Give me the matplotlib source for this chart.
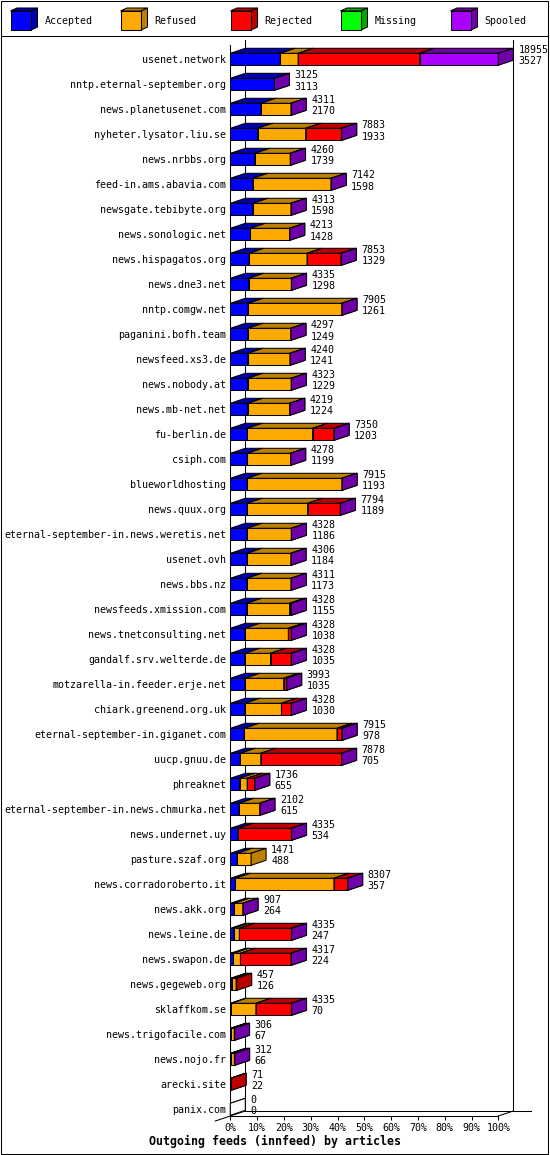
import matplotlib
matplotlib.use("Agg")
import matplotlib.pyplot as plt
from matplotlib.patches import Polygon, Rectangle

# ---- data ----
hosts = [
    "usenet.network", "nntp.eternal-september.org", "news.planetusenet.com",
    "nyheter.lysator.liu.se", "news.nrbbs.org", "feed-in.ams.abavia.com",
    "newsgate.tebibyte.org", "news.sonologic.net", "news.hispagatos.org",
    "news.dne3.net", "nntp.comgw.net", "paganini.bofh.team", "newsfeed.xs3.de",
    "news.nobody.at", "news.mb-net.net", "fu-berlin.de", "csiph.com",
    "blueworldhosting", "news.quux.org", "eternal-september-in.news.weretis.net",
    "usenet.ovh", "news.bbs.nz", "newsfeeds.xmission.com",
    "news.tnetconsulting.net", "gandalf.srv.welterde.de",
    "motzarella-in.feeder.erje.net", "chiark.greenend.org.uk",
    "eternal-september-in.giganet.com", "uucp.gnuu.de", "phreaknet",
    "eternal-september-in.news.chmurka.net", "news.undernet.uy",
    "pasture.szaf.org", "news.corradoroberto.it", "news.akk.org",
    "news.leine.de", "news.swapon.de", "news.gegeweb.org", "sklaffkom.se",
    "news.trigofacile.com", "news.nojo.fr", "arecki.site", "panix.com",
]
offered = [18955, 3125, 4311, 7883, 4260, 7142, 4313, 4213, 7853, 4335, 7905,
           4297, 4240, 4323, 4219, 7350, 4278, 7915, 7794, 4328, 4306, 4311,
           4328, 4328, 4328, 3993, 4328, 7915, 7878, 1736, 2102, 4335, 1471,
           8307, 907, 4335, 4317, 457, 4335, 306, 312, 71, 0]
accepted = [3527, 3113, 2170, 1933, 1739, 1598, 1598, 1428, 1329, 1298, 1261,
            1249, 1241, 1229, 1224, 1203, 1199, 1193, 1189, 1186, 1184, 1173,
            1155, 1038, 1035, 1035, 1030, 978, 705, 655, 615, 534, 488, 357,
            264, 247, 224, 126, 70, 67, 66, 22, 0]
refused = [1270, 0, 2130, 3400, 2500, 5530, 2700, 2770, 4100, 3020, 6630,
           3035, 2985, 3080, 2980, 4620, 3065, 6708, 4280, 3128, 3108, 3124,
           3040, 3070, 1810, 2740, 2590, 6570, 1450, 540, 1475, 0, 983, 6975,
           630, 395, 495, 280, 1740, 220, 226, 0, 0]
rejected = [8600, 0, 0, 2540, 0, 0, 0, 0, 2410, 0, 0, 0, 0, 0, 0, 1513, 0, 0,
            2310, 0, 0, 0, 118, 205, 1470, 205, 695, 352, 5710, 527, 0, 3788,
            0, 962, 0, 3680, 3585, 51, 2510, 0, 0, 49, 0]
missing = [0] * len(hosts)
spooled = [5558, 12, 11, 10, 21, 14, 15, 15, 14, 17, 14, 13, 14, 14, 15, 14,
           14, 14, 15, 14, 14, 14, 15, 15, 13, 13, 13, 15, 13, 14, 12, 13, 0,
           13, 13, 13, 13, 0, 15, 19, 20, 0, 0]

series_names = ["Accepted", "Refused", "Rejected", "Missing", "Spooled"]
series = [accepted, refused, rejected, missing, spooled]
ticks_pct = [0, 10, 20, 30, 40, 50, 60, 70, 80, 90, 100]

FRONT = {"Accepted": "#0000ff", "Refused": "#ffaa00", "Rejected": "#ff0000",
         "Missing": "#00ff00", "Spooled": "#aa00ff"}
DARK = {"Accepted": "#0000b0", "Refused": "#bb8000", "Rejected": "#bb0000",
        "Missing": "#00a800", "Spooled": "#7000a8"}

MONO = "DejaVu Sans Mono"
FS = 7.2
LW = 0.75

W, H = 550, 1155
fig = plt.figure(figsize=(W / 100, H / 100), dpi=100)
fig.patch.set_facecolor("white")

# pixel canvas for frame, legend and title
canvas = fig.add_axes([0, 0, 1, 1])
canvas.set_xlim(0, W)
canvas.set_ylim(H, 0)
canvas.axis("off")
canvas.add_patch(Rectangle((0.5, 0.5), W - 2.5, H - 2, fill=False, lw=LW, ec="black"))
canvas.plot([0.5, W - 2], [35.5, 35.5], color="black", lw=LW)

# legend with little 3d boxes
for i, name in enumerate(series_names):
    x0 = 10.5 + 110 * i
    x1, y0, y1, ddx, ddy = x0 + 20.5, 11, 30, 6.5, 3
    canvas.add_patch(Polygon([(x0, y0), (x0 + ddx, y0 - ddy), (x1 + ddx, y0 - ddy), (x1, y0)],
                             fc=DARK[name], ec="black", lw=LW))
    canvas.add_patch(Polygon([(x1, y0), (x1 + ddx, y0 - ddy), (x1 + ddx, y1 - ddy), (x1, y1)],
                             fc=DARK[name], ec="black", lw=LW))
    canvas.add_patch(Rectangle((x0, y0), x1 - x0, y1 - y0, fc=FRONT[name], ec="black", lw=LW))
    canvas.text(x0 + 34, 24.5, name, family=MONO, fontsize=FS, va="baseline", ha="left")

canvas.text(275, 1141, "Outgoing feeds (innfeed) by articles", family=MONO,
            fontsize=8.4, fontweight="bold", ha="center", va="center")

# ---- bar area ----
PLOT_L, PLOT_R, PLOT_T, PLOT_B = 230.3, 498.3, 45, 1116
ROW0, ROW_STEP = 59.3, 25
ax = fig.add_axes([PLOT_L / W, (H - PLOT_B) / H, (PLOT_R - PLOT_L) / W, (PLOT_B - PLOT_T) / H])
ax.patch.set_alpha(0)

totals = [sum(v) for v in zip(*series)]
xmax = max(totals)
ax.set_xlim(0, xmax)
ax.set_ylim((PLOT_B - ROW0) / ROW_STEP, (PLOT_T - ROW0) / ROW_STEP)

px = xmax / (PLOT_R - PLOT_L)   # data units per pixel (x)
py = 1 / ROW_STEP               # rows per pixel (y)
DX, DY, HALF = 15 * px, 5 * py, 6 * py
ybot = (PLOT_B - ROW0) / ROW_STEP
ytop = (PLOT_T - ROW0) / ROW_STEP

# back wall / floor lines
wall = dict(color="black", lw=LW, clip_on=False, zorder=1)
ax.plot([DX, DX], [ytop - DY, ybot - DY], **wall)
ax.plot([xmax + DX, xmax + DX], [ytop - DY, ybot - DY], **wall)
ax.plot([DX, xmax + DX + 18 * px], [ybot - DY, ybot - DY], **wall)
ax.plot([-DX, DX], [ybot + DY, ybot - DY], **wall)
ax.plot([xmax, xmax + DX], [ybot, ybot - DY], **wall)


def box(x0, x1, r, front, dark):
    t, b = r - HALF, r + HALF
    kw = dict(ec="black", lw=LW, clip_on=False, zorder=3, joinstyle="miter")
    ax.add_patch(Polygon([(x0, t), (x1, t), (x1, b), (x0, b)], fc=front, **kw))
    ax.add_patch(Polygon([(x0, t), (x0 + DX, t - DY), (x1 + DX, t - DY), (x1, t)], fc=dark, **kw))
    ax.add_patch(Polygon([(x1, t), (x1 + DX, t - DY), (x1 + DX, b - DY), (x1, b)], fc=dark, **kw))


for r, host in enumerate(hosts):
    left = 0
    drawn = False
    for name, vals in zip(series_names, series):
        v = vals[r]
        if v <= 0:
            continue
        box(left, left + v, r, FRONT[name], DARK[name])
        left += v
        drawn = True
    if not drawn:
        box(0, 0, r, "white", "white")
    lx = left + DX + 5 * px
    ax.text(lx, r - 6 * py, str(offered[r]), family=MONO, fontsize=FS,
            va="baseline", ha="left", clip_on=False)
    ax.text(lx, r + 5.2 * py, str(accepted[r]), family=MONO, fontsize=FS,
            va="baseline", ha="left", clip_on=False)

ax.set_yticks(range(len(hosts)))
ax.set_yticklabels(hosts, family=MONO, fontsize=FS)
ax.tick_params(axis="y", length=0, pad=3)
ax.set_xticks([xmax * p / 100 for p in ticks_pct])
ax.set_xticklabels([f"{p}%" for p in ticks_pct], family=MONO, fontsize=FS)
ax.tick_params(axis="x", direction="out", length=3, width=LW, pad=2)
for side in ("top", "right"):
    ax.spines[side].set_visible(False)
for side in ("left", "bottom"):
    ax.spines[side].set_linewidth(LW)

fig.savefig("out.png", dpi=100, facecolor="white")
